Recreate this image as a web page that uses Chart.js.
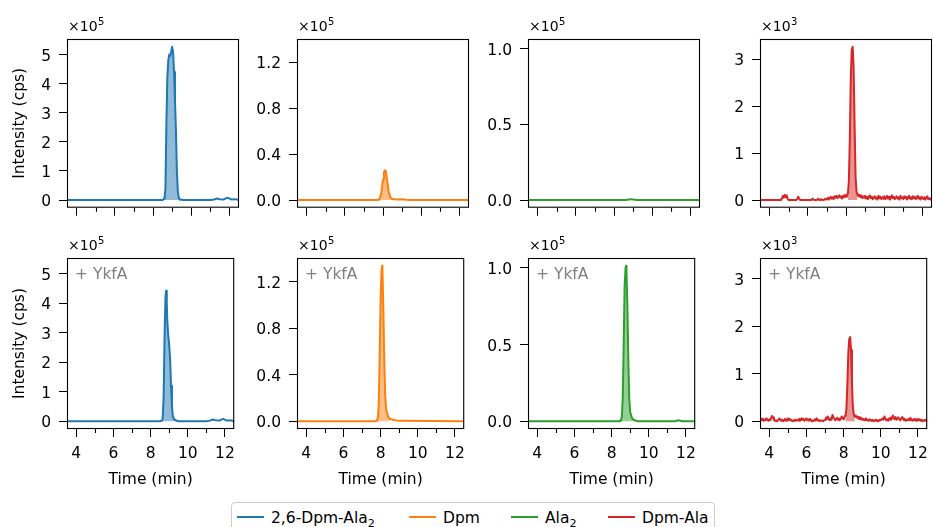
<!DOCTYPE html>
<html>
<head>
<meta charset="utf-8">
<script src="https://cdn.jsdelivr.net/npm/chart.js@4.4.1/dist/chart.umd.min.js"></script>
<style>
  body { margin: 0; background: #fff; }
  #wrap { position: relative; width: 933px; height: 527px; overflow: hidden; background: #fff; }
  #wrap canvas { position: absolute; }
  #legend {
    position: absolute; left: 231px; top: 502px; width: 484px; height: 40px;
    box-sizing: border-box; border: 1px solid #ccc; border-radius: 4px;
    background: #fff; font: 15.5px "DejaVu Sans", sans-serif; color: #000;
  }
  #legend .item { position: absolute; top: 6px; height: 19px; line-height: 19px; white-space: nowrap; }
  #legend .item i { display: inline-block; width: 27px; height: 2px; margin-right: 7px; vertical-align: 5px; }
  #legend sub { font-size: 0.72em; line-height: 0; vertical-align: -0.4em; }
</style>
</head>
<body>
<div id="wrap">
  <div id="legend"></div>
</div>
<script>
// LC-MS chromatograms, control (top) vs + YkfA (bottom)
const seriesLabels = ["2,6-Dpm-Ala<sub>2</sub>", "Dpm", "Ala<sub>2</sub>", "Dpm-Ala"];
const seriesColors = ["#1f77b4", "#ff7f0e", "#2ca02c", "#d62728"];

// y units per column: x10^5, x10^5, x10^5, x10^3
const yExponents = ["5", "5", "5", "3"];
const yTicks = [[0, 1, 2, 3, 4, 5], [0, 0.4, 0.8, 1.2], [0, 0.5, 1.0], [0, 1, 2, 3]];
const yDecimals = [0, 1, 1, 0];
const yMins = [-0.264, -0.0669, -0.0507, -0.1635];
const yMaxs = [5.534, 1.404, 1.064, 3.434];
const xMajor = [4, 6, 8, 10, 12];
const xMinor = [5, 7, 9, 11];

// 2,6-Dpm-Ala2
const dpmAla2CtrlT = [3.5, 8.5, 8.6, 8.65, 8.7, 8.75, 8.8, 8.85, 8.9, 8.95, 9.0, 9.05, 9.1, 9.15, 9.2, 9.25, 9.3, 9.35, 9.4, 9.6, 11.0, 11.2, 11.35, 11.5, 11.7, 11.9, 12.1, 12.3, 12.5];
const dpmAla2CtrlI = [0, 0, 0.05, 0.4, 2.6, 4.2, 4.8, 5.0, 4.95, 5.1, 5.27, 5.1, 4.4, 3.4, 2.4, 1.0, 0.3, 0.08, 0.02, 0, 0, 0.02, 0.05, 0.03, 0.02, 0.08, 0.02, 0.03, 0];
const dpmAla2YkfaT = [3.5, 8.5, 8.6, 8.65, 8.7, 8.75, 8.8, 8.83, 8.87, 8.9, 8.95, 9.0, 9.05, 9.1, 9.15, 9.2, 9.3, 9.5, 11.0, 11.2, 11.35, 11.5, 11.7, 11.9, 12.1, 12.3, 12.5];
const dpmAla2YkfaI = [0, 0, 0.02, 0.08, 0.8, 2.8, 4.2, 4.42, 4.0, 3.4, 2.9, 2.6, 2.1, 1.2, 0.5, 0.15, 0.04, 0, 0, 0.02, 0.06, 0.03, 0.02, 0.08, 0.02, 0.03, 0];

// Dpm
const dpmCtrlT = [3.5, 7.7, 7.8, 7.9, 8.0, 8.05, 8.1, 8.15, 8.2, 8.3, 8.4, 8.5, 8.7, 9.0, 9.2, 9.5, 12.5];
const dpmCtrlI = [0, 0, 0.005, 0.05, 0.18, 0.24, 0.26, 0.25, 0.19, 0.07, 0.02, 0.008, 0.004, 0.006, 0.003, 0, 0];
const dpmYkfaT = [3.5, 7.7, 7.8, 7.85, 7.9, 7.95, 8.0, 8.05, 8.08, 8.1, 8.15, 8.2, 8.25, 8.3, 8.4, 8.5, 8.7, 9.0, 12.5];
const dpmYkfaI = [0, 0, 0.005, 0.03, 0.15, 0.55, 1.05, 1.3, 1.337, 1.3, 0.95, 0.5, 0.22, 0.1, 0.04, 0.02, 0.01, 0.003, 0];

// Ala2
const ala2CtrlT = [3.5, 8.6, 8.8, 8.9, 9.0, 9.2, 12.5];
const ala2CtrlI = [0, 0, 0.004, 0.006, 0.004, 0, 0];
const ala2YkfaT = [3.5, 8.4, 8.5, 8.55, 8.6, 8.65, 8.7, 8.75, 8.78, 8.8, 8.85, 8.9, 8.95, 9.0, 9.1, 9.2, 9.4, 11.4, 11.6, 11.8, 12.5];
const ala2YkfaI = [0, 0, 0.005, 0.03, 0.15, 0.5, 0.88, 1.0, 1.013, 0.98, 0.75, 0.4, 0.15, 0.06, 0.02, 0.008, 0, 0, 0.006, 0, 0];

// Dpm-Ala (noisy trace, both runs share the time grid)
const dpmAlaT = [
  3.5, 3.55, 3.6, 3.65, 3.7, 3.75, 3.8, 3.85, 3.9, 3.95,
  4.0, 4.05, 4.1, 4.15, 4.2, 4.25, 4.3, 4.35, 4.4, 4.45, 4.5, 4.55, 4.6, 4.65, 4.7, 4.75, 4.8, 4.85, 4.9, 4.95,
  5.0, 5.05, 5.1, 5.15, 5.2, 5.25, 5.3, 5.35, 5.4, 5.45, 5.5, 5.55, 5.6, 5.65, 5.7, 5.75, 5.8, 5.85, 5.9, 5.95,
  6.0, 6.05, 6.1, 6.15, 6.2, 6.25, 6.3, 6.35, 6.4, 6.45, 6.5, 6.55, 6.6, 6.65, 6.7, 6.75, 6.8, 6.85, 6.9, 6.95,
  7.0, 7.05, 7.1, 7.15, 7.2, 7.25, 7.3, 7.35, 7.4, 7.45, 7.5, 7.55, 7.6, 7.65, 7.7, 7.75, 7.8, 7.85, 7.9, 7.95,
  8.0, 8.05, 8.1, 8.15, 8.2, 8.25, 8.3, 8.35, 8.4, 8.45, 8.5, 8.55, 8.6, 8.65, 8.7, 8.75, 8.8, 8.85, 8.9, 8.95,
  9.0, 9.05, 9.1, 9.15, 9.2, 9.25, 9.3, 9.35, 9.4, 9.45, 9.5, 9.55, 9.6, 9.65, 9.7, 9.75, 9.8, 9.85, 9.9, 9.95,
  10.0, 10.05, 10.1, 10.15, 10.2, 10.25, 10.3, 10.35, 10.4, 10.45, 10.5, 10.55, 10.6, 10.65, 10.7, 10.75, 10.8, 10.85, 10.9, 10.95,
  11.0, 11.05, 11.1, 11.15, 11.2, 11.25, 11.3, 11.35, 11.4, 11.45, 11.5, 11.55, 11.6, 11.65, 11.7, 11.75, 11.8, 11.85, 11.9, 11.95,
  12.0, 12.05, 12.1, 12.15, 12.2, 12.25, 12.3, 12.35, 12.4, 12.45, 12.5
];
const dpmAlaCtrlI = [
  0, 0, 0, 0, 0, 0, 0, 0, 0, 0,
  0, 0, 0, 0, 0, 0, 0, 0, 0, 0, 0, 0, 0, 0, 0.09, 0.05, 0.11, 0.06, 0.1, 0.02,
  0, 0, 0, 0, 0, 0, 0, 0, 0, 0.02, 0.07, 0.03, 0, 0, 0, 0, 0, 0, 0, 0,
  0, 0, 0, 0, 0, 0.03, 0.01, 0, 0, 0, 0.01, 0.03, 0, 0, 0.02, 0, 0, 0.01, 0.03, 0.01,
  0.02, 0.05, 0.01, 0.04, 0.07, 0.03, 0.06, 0.02, 0.08, 0.05, 0.09, 0.04, 0.07, 0.1, 0.05, 0.08, 0.03, 0.09, 0.06, 0.11,
  0.07, 0.1, 0.15, 0.4, 1.3, 2.6, 3.2, 3.27, 2.8, 1.6, 0.5, 0.18, 0.12, 0.08, 0.11, 0.06, 0.1, 0.04, 0.08, 0.05,
  0.09, 0.03, 0.07, 0.02, 0.06, 0.1, 0.04, 0.07, 0.02, 0.05, 0.08, 0.03, 0.06, 0.01, 0.09, 0.04, 0.07, 0.02, 0.06, 0.03,
  0.08, 0.02, 0.05, 0.09, 0.03, 0.07, 0.01, 0.06, 0.1, 0.04, 0.07, 0.02, 0.05, 0.08, 0.03, 0.06, 0.01, 0.09, 0.04, 0.06,
  0.02, 0.08, 0.04, 0.07, 0.01, 0.05, 0.09, 0.03, 0.06, 0.02, 0.08, 0.04, 0.07, 0.02, 0.05, 0.09, 0.03, 0.06, 0.01, 0.07,
  0.04, 0.02, 0.06, 0.01, 0.05, 0.08, 0.02, 0.04, 0.01, 0.03, 0.02
];
const dpmAlaYkfaI = [
  0.03, 0.06, 0.02, 0.05, 0.01, 0.04, 0.02, 0.06, 0.03, 0.01,
  0.04, 0.02, 0.07, 0.11, 0.08, 0.03, 0.01, 0.02, 0, 0.01, 0.04, 0.06, 0.02, 0.01, 0.03, 0, 0.02, 0.05, 0.01, 0.03,
  0.06, 0.02, 0.05, 0.03, 0.01, 0, 0.02, 0.01, 0.03, 0.01, 0.02, 0.04, 0.01, 0.05, 0.02, 0.06, 0.03, 0.05, 0.01, 0.04,
  0.06, 0.02, 0.04, 0.01, 0.05, 0.02, 0, 0.01, 0.02, 0.04, 0.01, 0.06, 0.02, 0.03, 0, 0.01, 0.02, 0.01, 0, 0.02,
  0.03, 0.08, 0.05, 0.1, 0.04, 0.02, 0.06, 0.03, 0.13, 0.09, 0.05, 0.02, 0.04, 0.07, 0.03, 0.06, 0.02, 0.05, 0.1, 0.07,
  0.04, 0.09, 0.12, 0.25, 0.75, 1.4, 1.72, 1.77, 1.5, 0.8, 0.3, 0.14, 0.1, 0.12, 0.08, 0.1, 0.05, 0.09, 0.04, 0.07,
  0.03, 0.05, 0.02, 0.04, 0.06, 0.02, 0.03, 0.01, 0.04, 0.02, 0.01, 0.03, 0, 0.02, 0.01, 0.03, 0, 0.02, 0.01, 0.03,
  0.02, 0.04, 0.06, 0.03, 0.1, 0.05, 0.02, 0.04, 0.01, 0.06, 0.03, 0.08, 0.05, 0.12, 0.07, 0.04, 0.09, 0.03, 0.06, 0.08,
  0.04, 0.02, 0.05, 0.09, 0.06, 0.02, 0.04, 0.01, 0.03, 0.02, 0.05, 0.02, 0.07, 0.03, 0.01, 0.04, 0.02, 0.05, 0.01, 0.03,
  0.05, 0.02, 0.04, 0.01, 0.03, 0, 0.02, 0.01, 0.03, 0.01, 0.02
];

// shaded peak window per panel (top row, bottom row)
const peakWindows = [
  [[8.6, 9.4], [8.6, 9.3]],
  [[7.8, 8.5], [7.75, 8.6]],
  [null, [8.5, 9.2]],
  [[8.1, 8.6], [8.1, 8.6]]
];

const panels = [
  { col: 0, row: 0, t: dpmAla2CtrlT, y: dpmAla2CtrlI },
  { col: 1, row: 0, t: dpmCtrlT, y: dpmCtrlI },
  { col: 2, row: 0, t: ala2CtrlT, y: ala2CtrlI },
  { col: 3, row: 0, t: dpmAlaT, y: dpmAlaCtrlI },
  { col: 0, row: 1, t: dpmAla2YkfaT, y: dpmAla2YkfaI },
  { col: 1, row: 1, t: dpmYkfaT, y: dpmYkfaI },
  { col: 2, row: 1, t: ala2YkfaT, y: ala2YkfaI },
  { col: 3, row: 1, t: dpmAlaT, y: dpmAlaYkfaI },
];

const FONT = '"DejaVu Sans", sans-serif';
Chart.defaults.font.family = FONT;
Chart.defaults.font.size = 15.5;
Chart.defaults.color = "#000";

const canvasLeft = [0, 230, 461, 693];
const canvasTop = [0, 219];
const canvasHeight = [225, 272];
const padTop = 39;
const axisWidth = 67;
const plotW = 172;
const plotH = 171;
const legendSwatchX = [5, 177, 279, 376];

function hexToRgba(hex, a) {
  const n = parseInt(hex.slice(1), 16);
  return `rgba(${(n >> 16) & 255},${(n >> 8) & 255},${n & 255},${a})`;
}

const panelDecor = {
  id: "panelDecor",
  afterDraw(chart, args, opts) {
    const { ctx, chartArea: a } = chart;
    const xs = chart.scales.x;
    ctx.save();
    ctx.strokeStyle = "#000";
    ctx.lineWidth = 1.1;
    ctx.strokeRect(a.left + 0.5, a.top + 0.5, a.right - a.left - 1, a.bottom - a.top - 1);
    ctx.beginPath();
    xMinor.forEach((v) => {
      const x = Math.round(xs.getPixelForValue(v)) + 0.5;
      ctx.moveTo(x, a.bottom);
      ctx.lineTo(x, a.bottom + 4);
    });
    ctx.stroke();

    ctx.fillStyle = "#000";
    ctx.textBaseline = "alphabetic";
    ctx.textAlign = "left";
    ctx.font = `14px ${FONT}`;
    ctx.fillText("×10", a.left + 1, a.top - 8);
    const w = ctx.measureText("×10").width;
    ctx.font = `10px ${FONT}`;
    ctx.fillText(opts.exp, a.left + 1 + w + 0.5, a.top - 14);

    if (opts.note) {
      ctx.fillStyle = "#7f7f7f";
      ctx.font = `15.5px ${FONT}`;
      ctx.textBaseline = "middle";
      ctx.fillText(opts.note, a.left + 8, a.top + 17);
    }
    ctx.restore();
  },
};

const wrap = document.querySelector("#wrap");

panels.forEach((p) => {
  const color = seriesColors[p.col];
  const win = peakWindows[p.col][p.row];
  const canvas = document.createElement("canvas");
  const w = axisWidth + plotW + 4;
  const h = canvasHeight[p.row];
  canvas.width = w;
  canvas.height = h;
  canvas.style.left = canvasLeft[p.col] + "px";
  canvas.style.top = canvasTop[p.row] + "px";
  canvas.style.width = w + "px";
  canvas.style.height = h + "px";
  wrap.insertBefore(canvas, document.querySelector("#legend"));

  const points = p.t.map((t, i) => ({ x: t, y: p.y[i] }));
  const fillColor = hexToRgba(color, 0.5);

  new Chart(canvas.getContext("2d"), {
    type: "line",
    data: {
      datasets: [
        {
          data: points,
          borderColor: color,
          borderWidth: 2,
          borderJoinStyle: "round",
          borderCapStyle: "round",
          backgroundColor: fillColor,
          fill: win ? "origin" : false,
          pointRadius: 0,
          tension: 0,
          segment: {
            backgroundColor: (ctx) =>
              win && ctx.p0.parsed.x >= win[0] && ctx.p1.parsed.x <= win[1] ? fillColor : "rgba(0,0,0,0)",
          },
        },
      ],
    },
    options: {
      responsive: false,
      animation: false,
      devicePixelRatio: 1,
      layout: { padding: { top: padTop, left: 0, right: 4, bottom: 0 } },
      plugins: {
        legend: { display: false },
        tooltip: { enabled: false },
        panelDecor: { exp: yExponents[p.col], note: p.row === 1 ? "+ YkfA" : "" },
      },
      scales: {
        x: {
          type: "linear",
          min: 3.5,
          max: 12.5,
          border: { display: false },
          grid: { drawOnChartArea: false, tickLength: 8, color: "#000" },
          afterBuildTicks: (s) => {
            s.ticks = xMajor.map((v) => ({ value: v }));
          },
          afterFit: (s) => {
            s.height = h - padTop - plotH;
          },
          ticks: {
            padding: 8,
            maxRotation: 0,
            callback: (v) => (p.row === 1 ? String(v) : ""),
          },
          title: {
            display: p.row === 1,
            text: "Time (min)",
            padding: { top: 0, bottom: 1.5 },
          },
        },
        y: {
          min: yMins[p.col],
          max: yMaxs[p.col],
          border: { display: false },
          grid: { drawOnChartArea: false, tickLength: 8, color: "#000" },
          afterBuildTicks: (s) => {
            s.ticks = yTicks[p.col].map((v) => ({ value: v }));
          },
          afterFit: (s) => {
            s.width = axisWidth;
          },
          ticks: {
            padding: 8,
            labelOffset: 2,
            callback: (v) => Number(v).toFixed(yDecimals[p.col]),
          },
          title: {
            display: p.col === 0,
            text: "Intensity (cps)",
            padding: { top: 10.5, bottom: 0 },
          },
        },
      },
    },
    plugins: [panelDecor],
  });
});

const legend = document.querySelector("#legend");
legend.innerHTML = seriesLabels
  .map((label, i) =>
    `<span class="item" style="left:${legendSwatchX[i]}px"><i style="background:${seriesColors[i]}"></i>${label}</span>`)
  .join("");
</script>
</body>
</html>
